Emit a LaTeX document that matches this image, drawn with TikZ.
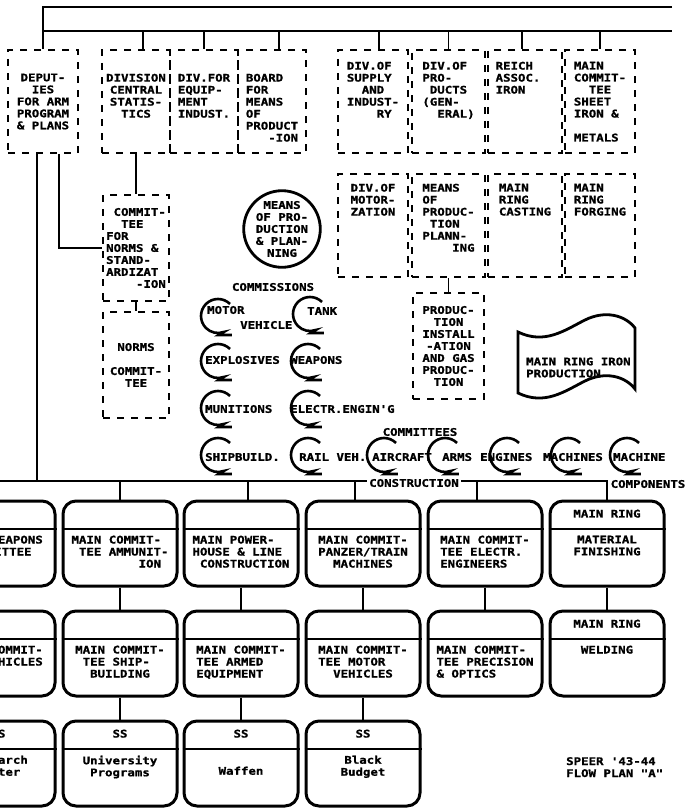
\documentclass[tikz,border=0pt]{standalone}
\usepackage{fontspec}
\usetikzlibrary{positioning}
\newfontfamily\planfont[FakeStretch=1.18,FakeBold=1.2]{DejaVu Sans Mono}

\tikzset{
  txt/.style={font=\planfont\bfseries\fontsize{10.5}{12}\selectfont, align=center, inner sep=0pt},
  bt/.style={txt, align=left},
  conn/.style={line width=1.8pt},
  dbox/.style={draw, txt, dash pattern=on 7pt off 7pt, line width=2.8pt, minimum height=103pt},
  rbox/.style={draw, line width=3pt, rounded corners=13pt, minimum width=114pt, minimum height=85pt},
  swirl/.pic={\draw[line width=2.6pt] (45:17) arc[start angle=45,end angle=290,radius=17] -- ++(-5,-3) -- ++(13,0);}
}

\begin{document}
\begin{tikzpicture}[x=1pt,y=1pt]
\useasboundingbox (0,0) rectangle (687,-808);
\clip (0,0) rectangle (687,-808);

% top bars
\coordinate (tl) at (43,-7);
\coordinate (tr) at (672,-7);
\coordinate (bl) at (43,-31);
\coordinate (br) at (672,-31);
\coordinate (bus) at (0,-481);

% first row of divisions
\node[dbox, minimum width=70pt] (deputies) at (43,-101.5) {DEPUT-\\IES\\FOR ARM\\PROGRAM\\\& PLANS};
\node[dbox, minimum width=68pt] (divstat) at (136,-101.5) {};
\node[dbox, minimum width=68pt] (divequip) at (204,-101.5) {};
\node[dbox, minimum width=68pt] (board) at (272,-101.5) {};
\node[dbox, minimum width=70pt] (supply) at (373,-101.5) {};
\node[dbox, minimum width=73pt] (products) at (448.5,-101.5) {};
\node[dbox, minimum width=74pt] (reich) at (525,-101.5) {};
\node[dbox, minimum width=70pt] (sheet) at (600,-101.5) {};

\node[txt, below=25pt of divstat.north] (divstat-t) {DIVISION\\CENTRAL\\STATIS-\\TICS};
\node[bt, below=25pt of divequip.north] (divequip-t) {DIV.FOR\\EQUIP-\\MENT\\INDUST.};
\node[bt, below=25pt of board.north] (board-t) {BOARD\\FOR\\MEANS\\OF\\PRODUCT\\~~~-ION};
\node[bt, below=13pt of supply.north] (supply-t) {DIV.OF\\SUPPLY\\~~AND\\INDUST-\\~~~~RY};
\node[bt, below=13pt of products.north] (products-t) {DIV.OF\\PRO-\\~DUCTS\\(GEN-\\~~ERAL)};
\node[bt, below=13pt of reich.north, xshift=-7pt] (reich-t) {REICH\\ASSOC.\\IRON};
\node[bt, below=13pt of sheet.north] (sheet-t) {MAIN\\COMMIT-\\~~TEE\\SHEET\\IRON \&\\[12pt]METALS};

% second row on the right
\node[dbox, minimum width=70pt] (motoriz) at (373,-225.5) {};
\node[dbox, minimum width=73pt] (mplan) at (448.5,-225.5) {};
\node[dbox, minimum width=74pt] (casting) at (525,-225.5) {};
\node[dbox, minimum width=70pt] (forging) at (600,-225.5) {};
\node[txt, below=11pt of motoriz.north] (motoriz-t) {DIV.OF\\MOTOR-\\ZATION};
\node[bt, below=11pt of mplan.north] (mplan-t) {MEANS\\OF\\PRODUC-\\~TION\\PLANN-\\~~~~ING};
\node[bt, below=11pt of casting.north] (casting-t) {MAIN\\RING\\CASTING};
\node[bt, below=11pt of forging.north] (forging-t) {MAIN\\RING\\FORGING};

\node[dbox, minimum width=71pt, minimum height=106pt] (prodinst) at (448.5,-346) {PRODUC-\\TION\\INSTALL\\-ATION\\AND GAS\\PRODUC-\\TION};
\node[dbox, minimum width=66pt, minimum height=106pt, align=left] (committee) at (136,-248) {~COMMIT-\\~~TEE\\FOR\\NORMS \&\\STAND-\\ARDIZAT\\~~~~-ION};
\node[dbox, minimum width=66pt, minimum height=106pt] (norms) at (136,-365) {NORMS\\[12pt]COMMIT-\\TEE};

\node[circle, draw, line width=2.8pt, minimum size=74pt, txt] (mpcircle) at (282,-229) {MEANS\\OF PRO-\\DUCTION\\\& PLAN-\\NING};

% main ring iron flag
\draw[line width=2.8pt] (518,-332) .. controls (545,-345) and (565,-330) .. (585,-320) .. controls (605,-310) and (625,-315) .. (635,-328) -- (635,-389) .. controls (625,-376) and (605,-371) .. (585,-381) .. controls (565,-391) and (545,-406) .. (518,-393) -- cycle;
\node[bt, anchor=west] (ringiron) at (526,-367.5) {MAIN RING IRON\\PRODUCTION};

% main committees
\node[rbox] (weapons) at (-2,-543.5) {};
\node[rbox] (ammunit) at (120,-543.5) {};
\node[rbox] (powerhouse) at (241,-543.5) {};
\node[rbox] (panzer) at (363,-543.5) {};
\node[rbox] (electr) at (485,-543.5) {};
\node[rbox] (ringfinish) at (607,-543.5) {};
\node[rbox] (vehicles) at (-2,-653.5) {};
\node[rbox] (shipbuild) at (120,-653.5) {};
\node[rbox] (armed) at (241,-653.5) {};
\node[rbox] (motorveh) at (363,-653.5) {};
\node[rbox] (precision) at (485,-653.5) {};
\node[rbox] (welding) at (607,-653.5) {};
\node[rbox] (research) at (-2,-763.5) {};
\node[rbox] (university) at (120,-763.5) {};
\node[rbox] (waffen) at (241,-763.5) {};
\node[rbox] (budget) at (363,-763.5) {};

\foreach \b in {weapons,ammunit,powerhouse,panzer,electr,ringfinish,vehicles,shipbuild,armed,motorveh,precision,welding,research,university,waffen,budget}
  \draw[line width=2pt] ([yshift=-29pt]\b.north west) -- ([yshift=-29pt]\b.north east);

\foreach \b/\t in {ringfinish/MAIN RING,welding/MAIN RING,research/SS,university/SS,waffen/SS,budget/SS}
  \node[txt, below=10pt of \b.north] (\b-h) {\t};

\node[txt, below=36pt of weapons.north] (weapons-t) {MAIN WEAPONS\\COMMITTEE};
\node[bt, below=36pt of ammunit.north] (ammunit-t) {MAIN COMMIT-\\~TEE AMMUNIT-\\~~~~~~~~~ION};
\node[bt, below=36pt of powerhouse.north] (powerhouse-t) {MAIN POWER-\\HOUSE \& LINE\\~CONSTRUCTION};
\node[bt, below=36pt of panzer.north] (panzer-t) {MAIN COMMIT-\\PANZER/TRAIN\\~~MACHINES};
\node[bt, below=36pt of electr.north] (electr-t) {MAIN COMMIT-\\TEE ELECTR.\\ENGINEERS};
\node[txt, below=36pt of ringfinish.north] (ringfinish-t) {MATERIAL\\FINISHING};
\node[txt, below=36pt of vehicles.north] (vehicles-t) {MAIN COMMIT-\\TEE VEHICLES};
\node[bt, below=36pt of shipbuild.north] (shipbuild-t) {MAIN COMMIT-\\~TEE SHIP-\\~~BUILDING};
\node[bt, below=36pt of armed.north] (armed-t) {MAIN COMMIT-\\TEE ARMED\\EQUIPMENT};
\node[bt, below=36pt of motorveh.north] (motorveh-t) {MAIN COMMIT-\\TEE MOTOR\\~~VEHICLES};
\node[bt, below=36pt of precision.north] (precision-t) {MAIN COMMIT-\\TEE PRECISION\\\& OPTICS};
\node[txt, below=36pt of welding.north] (welding-t) {WELDING};
\node[txt, below=36pt of research.north] (research-t) {Research\\Center};
\node[txt, below=36pt of university.north] (university-t) {University\\Programs};
\node[txt, below=47pt of waffen.north] (waffen-t) {Waffen};
\node[txt, below=36pt of budget.north] (budget-t) {Black\\Budget};

% connectors
\draw[conn] (tr) -- (tl) -- (deputies.north);
\draw[conn] (bl) -- (br);
\foreach \b/\s in {divstat/7,divequip/0,board/7,supply/6,products/0,reich/-3,sheet/0}
  \draw[conn] ([xshift=\s pt]\b.north) -- ([xshift=\s pt]\b.north |- bl);
\draw[conn] (divstat) -- (committee);
\draw[conn] (committee) -- (norms);
\draw[conn] (mplan) -- (prodinst);
\draw[conn] ([xshift=-6pt]deputies.south) -- ([xshift=-6pt]deputies.south |- bus);
\draw[conn] ([xshift=16pt]deputies.south) |- (committee.west);
\draw[conn] (bus) -- (ringfinish.north |- bus) -- (ringfinish.north);
\foreach \b/\s in {ammunit/0,powerhouse/7,panzer/-8,electr/-8}
  \draw[conn] ([xshift=\s pt]\b.north) -- ([xshift=\s pt]\b.north |- bus);
\foreach \a/\b in {weapons/vehicles,ammunit/shipbuild,powerhouse/armed,panzer/motorveh,electr/precision,ringfinish/welding,vehicles/research,shipbuild/university,armed/waffen,motorveh/budget}
  \draw[conn] (\a) -- (\b);

% commissions and committees
\foreach \n/\x/\y in {cmotor/218/316,ctank/310/314,cexpl/218/361,cweap/308/361,cmun/218/408,celec/308/408,cship/218/455,crail/308/455,cair/384/455,carms/445/455,ceng/507/455,cmach/568/455,ccomp/627/455}
  \pic (\n) at (\x,-\y) {swirl};
\foreach \n/\x/\y/\t in {tmotor/207/310/MOTOR,tveh/240/325/VEHICLE,ttank/307/311/TANK,texpl/205/360/EXPLOSIVES,tweap/290/360/WEAPONS,tmun/205/409/MUNITIONS,telec/290/409/ELECTR.ENGIN'G,tship/205/457/SHIPBUILD.,trail/299/457/RAIL VEH.,tair/372/457/AIRCRAFT,tarms/442/457/ARMS,teng/480/457/ENGINES,tmach/543/457/MACHINES,tcomp/613/457/MACHINE}
  \node[txt, anchor=west] (\n) at (\x,-\y) {\t};

\node[txt] (commissions) at (273,-287) {COMMISSIONS};
\node[txt] (committees) at (420,-432) {COMMITTEES};
\node[txt, fill=white, inner xsep=2pt] (construction) at (414,-483) {CONSTRUCTION};
\node[txt] (components) at (648,-484) {COMPONENTS};
\node[bt, anchor=north west] (speer) at (566,-757) {SPEER '43-44\\FLOW PLAN "A"};
\end{tikzpicture}
\end{document}
